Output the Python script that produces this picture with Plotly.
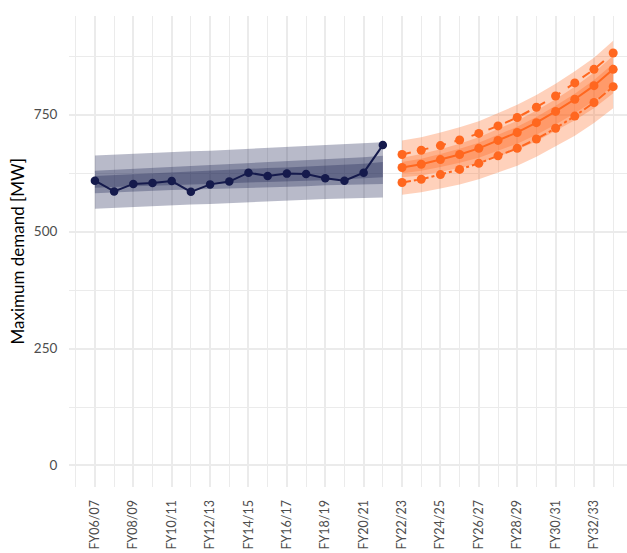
import plotly.graph_objects as go

# Financial years on the x axis (numeric position = index)
years = ["FY06/07", "FY07/08", "FY08/09", "FY09/10", "FY10/11", "FY11/12", "FY12/13",
         "FY13/14", "FY14/15", "FY15/16", "FY16/17", "FY17/18", "FY18/19", "FY19/20",
         "FY20/21", "FY21/22", "FY22/23", "FY23/24", "FY24/25", "FY25/26", "FY26/27",
         "FY27/28", "FY28/29", "FY29/30", "FY30/31", "FY31/32", "FY32/33", "FY33/34"]

# Historical maximum demand [MW]
hist_demand = [609, 586, 602, 604, 608, 585, 601, 607, 626, 619, 624, 623, 614, 609, 626, 685]
# Historical ranges (outer / middle / inner)
hist_outer_hi = [663, 665, 666, 668, 670, 672, 673, 675, 677, 679, 681, 683, 685, 687, 688, 691]
hist_outer_lo = [549, 551, 552, 554, 556, 558, 559, 561, 563, 565, 566, 568, 570, 571, 572, 573]
hist_mid_hi = [630, 632, 634, 636, 638, 640, 642, 644, 646, 649, 650, 653, 655, 657, 659, 662]
hist_mid_lo = [582, 584, 585, 587, 589, 590, 591, 592, 594, 595, 596, 597, 599, 600, 601, 602]
hist_in_hi = [619, 621, 622, 624, 626, 628, 630, 632, 634, 636, 637, 639, 641, 643, 645, 649]
hist_in_lo = [594, 596, 597, 598, 600, 601, 602, 604, 605, 606, 608, 609, 610, 612, 614, 616]

# Forecast scenarios [MW]
fc_central = [637, 644, 654, 665, 678, 695, 712, 733, 757, 783, 812, 847]
fc_high = [665, 674, 684, 696, 710, 726, 744, 766, 790, 818, 847, 882]
fc_low = [605, 612, 622, 633, 646, 662, 678, 698, 721, 747, 776, 810]
# Forecast ranges (outer / middle / inner)
fc_outer_hi = [695, 702, 712, 723, 736, 753, 771, 792, 816, 843, 872, 908]
fc_outer_lo = [579, 584, 592, 601, 612, 627, 641, 660, 682, 705, 732, 764]
fc_mid_hi = [658, 666, 676, 688, 702, 719, 737, 759, 783, 810, 840, 876]
fc_mid_lo = [616, 620, 628, 636, 646, 661, 675, 693, 715, 738, 764, 796]
fc_in_hi = [649, 656, 666, 677, 690, 707, 724, 745, 769, 795, 824, 859]
fc_in_lo = [625, 630, 638, 647, 658, 673, 688, 707, 729, 753, 780, 813]

NAVY = "#151a4c"
ORANGE = "#ff671f"
NAVY_FILL = "rgba(21,26,76,0.3)"
ORANGE_FILL = "rgba(255,103,31,0.3)"
FONT = "Lato"

x_hist = list(range(len(hist_demand)))
x_fc = list(range(len(hist_demand), len(years)))

fig = go.Figure()


def add_band(x, lo, hi, fill):
    fig.add_trace(go.Scatter(x=x, y=lo, mode="lines", line=dict(width=0),
                             hoverinfo="skip", showlegend=False))
    fig.add_trace(go.Scatter(x=x, y=hi, mode="lines", line=dict(width=0),
                             fill="tonexty", fillcolor=fill,
                             hoverinfo="skip", showlegend=False))


for lo, hi in [(hist_outer_lo, hist_outer_hi), (hist_mid_lo, hist_mid_hi),
               (hist_in_lo, hist_in_hi)]:
    add_band(x_hist, lo, hi, NAVY_FILL)
for lo, hi in [(fc_outer_lo, fc_outer_hi), (fc_mid_lo, fc_mid_hi),
               (fc_in_lo, fc_in_hi)]:
    add_band(x_fc, lo, hi, ORANGE_FILL)

fig.add_trace(go.Scatter(x=x_hist, y=hist_demand, mode="lines+markers",
                         line=dict(color=NAVY, width=2),
                         marker=dict(color=NAVY, size=8.5), showlegend=False))
fig.add_trace(go.Scatter(x=x_fc, y=fc_high, mode="lines+markers",
                         line=dict(color=ORANGE, width=2, dash="dash"),
                         marker=dict(color=ORANGE, size=9), showlegend=False))
fig.add_trace(go.Scatter(x=x_fc, y=fc_central, mode="lines+markers",
                         line=dict(color=ORANGE, width=2),
                         marker=dict(color=ORANGE, size=9), showlegend=False))
fig.add_trace(go.Scatter(x=x_fc, y=fc_low, mode="lines+markers",
                         line=dict(color=ORANGE, width=2, dash="dashdot"),
                         marker=dict(color=ORANGE, size=9), showlegend=False))

GRID = "#ebebeb"
fig.update_layout(
    width=627, height=553,
    margin=dict(l=69, r=0, t=16, b=66),
    plot_bgcolor="white", paper_bgcolor="white",
    font=dict(family=FONT, size=13, color="#4d4d4d"),
    xaxis=dict(
        range=[-1.35, 27.72],
        tickmode="array",
        tickvals=list(range(0, len(years), 2)),
        ticktext=[years[i] for i in range(0, len(years), 2)],
        tickangle=-90,
        ticks="outside", ticklen=7, tickcolor="rgba(0,0,0,0)",
        showgrid=True, gridcolor=GRID, gridwidth=1.7,
        minor=dict(dtick=1, tick0=0, showgrid=True, gridcolor=GRID, gridwidth=1.0),
        zeroline=False, showline=False, automargin=False,
        tickfont=dict(family=FONT, size=12.5, color="#4d4d4d"),
    ),
    yaxis=dict(
        range=[-46, 961],
        tickmode="array", tickvals=[0, 250, 500, 750],
        ticks="outside", ticklen=8, tickcolor="rgba(0,0,0,0)",
        showgrid=True, gridcolor=GRID, gridwidth=1.7,
        minor=dict(tickvals=[125, 375, 625, 875], showgrid=True, gridcolor=GRID, gridwidth=1.0),
        zeroline=False, showline=False, automargin=False,
        tickfont=dict(family=FONT, size=13.5, color="#4d4d4d"),
    ),
)

fig.add_annotation(text="Maximum demand [MW]", textangle=-90,
                   xref="paper", yref="paper", x=-52 / 558, y=0.5,
                   xanchor="center", yanchor="middle", showarrow=False,
                   font=dict(family=FONT, size=17, color="#000000"))

fig.write_html("out.html")
